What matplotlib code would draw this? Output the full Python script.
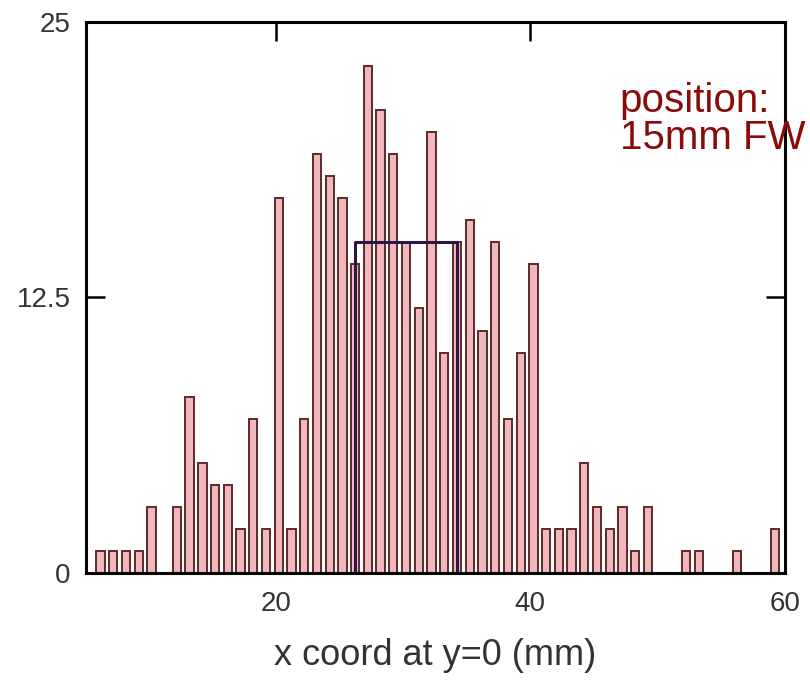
import matplotlib
matplotlib.use("Agg")
import matplotlib.pyplot as plt
import numpy as np

# ヒストグラムのデータ (1mm ビン)
bin_start = [6, 7, 8, 9, 10, 11, 12, 13, 14, 15, 16, 17, 18, 19, 20, 21, 22, 23,
             24, 25, 26, 27, 28, 29, 30, 31, 32, 33, 34, 35, 36, 37, 38, 39, 40,
             41, 42, 43, 44, 45, 46, 47, 48, 49, 50, 51, 52, 53, 54, 55, 56, 57,
             58, 59]
counts = [1, 1, 1, 1, 3, 0, 3, 8, 5, 4, 4, 2, 7, 2, 17, 2, 7, 19,
          18, 17, 14, 23, 21, 19, 15, 12, 20, 10, 15, 16, 11, 15, 7, 10, 14,
          2, 2, 2, 5, 3, 2, 3, 1, 3, 0, 0, 1, 1, 0, 0, 1, 0,
          0, 2]

# FWHM の箱
box_x = [26.25, 26.25, 34.25, 34.25]
box_y = [0, 15, 15, 0]

y_ticks = [0, 12.5, 25]
y_labels = ["0", "12.5", "25"]
x_ticks = [20, 40, 60]
x_labels = ["20", "40", "60"]

tick_font = ["Liberation Sans", "DejaVu Sans"]

fig = plt.figure(figsize=(8.1, 6.87), dpi=100)
ax = fig.add_axes([0.106, 0.166, 0.863, 0.802])

x = np.array(bin_start) + 0.25
ax.bar(x, counts, width=0.65, color="#f0b8bb", edgecolor="#5e2a2c", linewidth=1.4, zorder=2)
ax.plot(box_x, box_y, color="#2b1747", linewidth=2.2, zorder=3)

ax.set_xlim(5.1, 60)
ax.set_ylim(0, 25)

ax.set_xticks(x_ticks)
ax.set_xticklabels(x_labels, fontfamily=tick_font, fontsize=20, color="#333333")
ax.set_yticks(y_ticks)
ax.set_yticklabels(y_labels, fontfamily=tick_font, fontsize=20, color="#333333")
ax.tick_params(direction="in", length=14, width=1.8, top=True, right=True, zorder=4)
ax.tick_params(axis="x", pad=13)
ax.tick_params(axis="y", pad=11)

for s in ax.spines.values():
    s.set_linewidth(2.2)
    s.set_zorder(5)

ax.set_xlabel("x coord at y=0 (mm)", fontfamily=tick_font, fontsize=26, color="#333333", labelpad=15)

# 右上の注記
fig.text(0.765, 0.772, "position:\n15mm FW", color="#8b0a0a", fontsize=29,
         fontfamily=["Liberation Sans", "DejaVu Sans"], ha="left", va="bottom", linespacing=0.95)

fig.savefig("out.png", dpi=100)
plt.close(fig)
